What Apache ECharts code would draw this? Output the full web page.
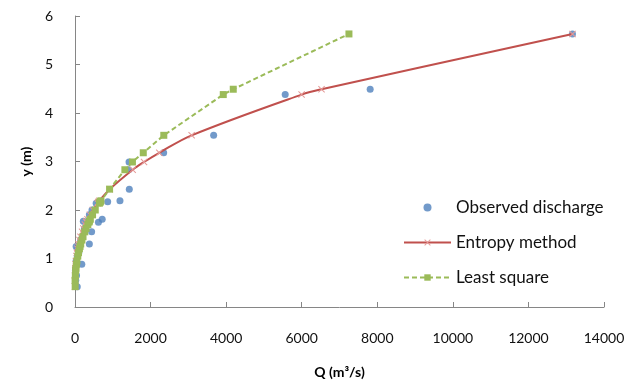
<!DOCTYPE html>
<html>
<head>
<meta charset="utf-8">
<script src="https://cdn.jsdelivr.net/npm/echarts@6/dist/echarts.min.js"></script>
<style>html,body{margin:0;padding:0;background:#fff}#chart{width:642px;height:387px}</style>
</head>
<body>
<div id="chart"></div>
<script>
// Stage values (m), sorted ascending
var stage = [0.42,0.55,0.65,0.75,0.80,0.88,0.95,1.05,1.12,1.20,1.25,1.30,1.38,1.45,1.55,1.62,1.70,1.75,1.77,1.81,1.90,2.00,2.14,2.16,2.17,2.19,2.43,2.83,2.99,3.18,3.54,4.38,4.49,5.63];
// Observed discharge (m3/s)
var qObserved = [60,20,40,10,15,180,30,60,100,80,30,380,150,200,440,250,300,620,220,720,380,450,560,640,865,1190,1437,1420,1430,2347,3669,5563,7812,13166];
// Entropy method discharge
var qEntropy = [0,1,3,7,10,16,23,38,50,67,80,94,119,145,187,220,263,293,305,331,394,472,598,617,627,647,921,1527,1827,2230,3087,5997,6524,13166];
// Least square discharge
var qLeastSquare = [5,3,9,19,25,38,51,74,93,117,134,151,183,212,259,295,340,369,381,406,465,536,645,661,669,686,915,1320,1520,1807,2350,3924,4188,7250];
var xTicks = {min:0, max:14000, interval:2000};
var yTicks = {min:0, max:6, interval:1};

function pairs(q){ return q.map(function(v,i){ return [v, stage[i]]; }); }

var font = 'Lato, "Open Sans", sans-serif';
var chart = echarts.init(document.getElementById('chart'), null, {renderer:'canvas'});
chart.setOption({
  animation:false,
  backgroundColor:'#fff',
  textStyle:{fontFamily:font},
  grid:{left:75, right:38, top:16, bottom:80},
  xAxis:{type:'value', min:xTicks.min, max:xTicks.max, interval:xTicks.interval,
    name:'Q (m³/s)', nameLocation:'middle', nameGap:58,
    nameTextStyle:{fontFamily:font, fontSize:14, fontWeight:'bold', color:'#000'},
    axisLine:{show:true, lineStyle:{color:'#868686', width:1}},
    axisTick:{show:true, inside:true, length:5, lineStyle:{color:'#868686'}},
    axisLabel:{fontFamily:font, fontSize:14, color:'#111', margin:24,
      formatter:function(v){ return String(v); }},
    splitLine:{show:false}},
  yAxis:{type:'value', min:yTicks.min, max:yTicks.max, interval:yTicks.interval,
    name:'y (m)', nameLocation:'middle', nameGap:36, nameRotate:90,
    nameTextStyle:{fontFamily:font, fontSize:14, fontWeight:'bold', color:'#000'},
    axisLine:{show:true, lineStyle:{color:'#868686', width:1}},
    axisTick:{show:true, inside:true, length:5, lineStyle:{color:'#868686'}},
    axisLabel:{fontFamily:font, fontSize:14, color:'#111', margin:22},
    splitLine:{show:false}},
  legend:{orient:'vertical', left:398, top:194, itemGap:18, itemWidth:47, itemHeight:8,
    textStyle:{fontFamily:font, fontSize:17, color:'#111'},
    data:['Observed discharge','Entropy method','Least square']},
  series:[
    {name:'Observed discharge', type:'scatter', data:pairs(qObserved), symbol:'circle', symbolSize:7,
      itemStyle:{color:'#4F81BD'}, z:2},
    {name:'Entropy method', type:'line', data:pairs(qEntropy), showSymbol:true, smooth:0.35,
      symbol:'path://M0,1L1,0L5,4L9,0L10,1L6,5L10,9L9,10L5,6L1,10L0,9L4,5Z', symbolSize:7,
      itemStyle:{color:'#E59A98'}, lineStyle:{color:'#C0504D', width:2}, z:3},
    {name:'Least square', type:'line', data:pairs(qLeastSquare), showSymbol:true,
      symbol:'rect', symbolSize:7,
      itemStyle:{color:'#9BBB59'}, lineStyle:{color:'#9BBB59', width:2, type:[5,3]}, z:4}
  ]
});
</script>
</body>
</html>
